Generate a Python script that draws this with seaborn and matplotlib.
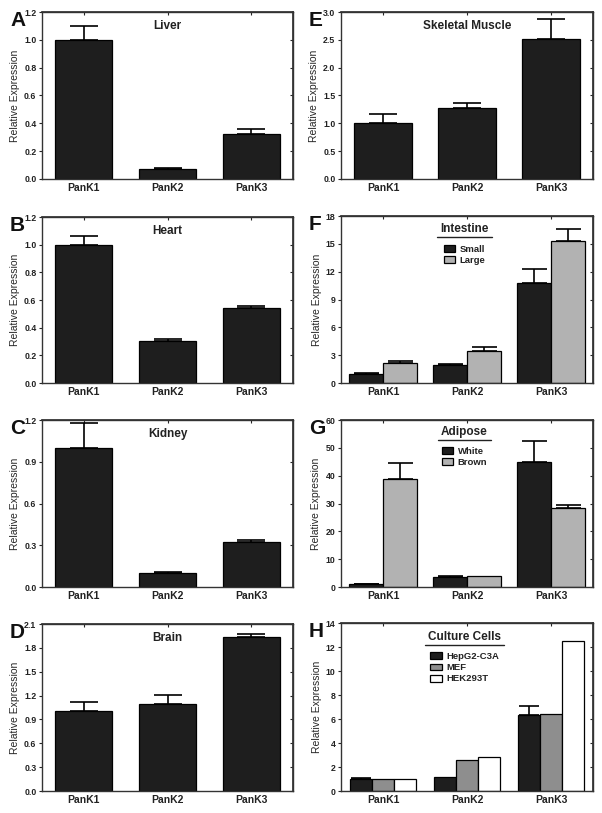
import numpy as np
import pandas as pd
import matplotlib
matplotlib.use("Agg")
import matplotlib.pyplot as plt
import seaborn as sns
from matplotlib.lines import Line2D
from matplotlib.ticker import FormatStrFormatter


# =========================
# Data
# =========================

genes = ["PanK1", "PanK2", "PanK3"]

liver = [1.00, 0.075, 0.32]
liver_top = [1.10, 0.08, 0.36]

heart = [1.00, 0.305, 0.54]
heart_top = [1.06, 0.315, 0.56]

kidney = [1.00, 0.10, 0.325]
kidney_top = [1.18, 0.11, 0.34]

brain = [1.00, 1.09, 1.94]
brain_top = [1.12, 1.21, 1.98]

muscle = [1.00, 1.27, 2.52]
muscle_top = [1.17, 1.37, 2.87]

intestine_small = [1.0, 1.9, 10.8]
intestine_small_top = [1.1, 2.1, 12.3]
intestine_large = [2.15, 3.45, 15.3]
intestine_large_top = [2.4, 3.9, 16.6]

adipose_white = [1.0, 3.7, 45.0]
adipose_white_top = [1.1, 4.1, 52.3]
adipose_brown = [38.8, 3.9, 28.5]
adipose_brown_top = [44.5, None, 29.6]

cells_hepg2 = [1.0, 1.15, 6.3]
cells_hepg2_top = [1.05, None, 7.05]
cells_mef = [1.0, 2.55, 6.4]
cells_mef_top = [None, None, None]
cells_hek = [1.0, 2.8, 12.5]
cells_hek_top = [None, None, None]


# =========================
# Style
# =========================

sns.set_theme(style="ticks")
plt.rcParams["font.family"] = ["Liberation Sans", "DejaVu Sans"]

BLACK = "#1e1e1e"
LIGHT = "#b2b2b2"
MID = "#8e8e8e"
WHITE = "#ffffff"

W, H = 602, 813
fig = plt.figure(figsize=(W / 100, H / 100), dpi=100)


def rect(left, top, right, bottom):
    return [left / W, 1 - bottom / H, (right - left) / W, (bottom - top) / H]


underlines = []


def panel(box, letter, title, series, names, colors, ymax, ystep, fmt,
          width, capsize, legend_title=None, leg_x=0.49, leg_y=0.92,
          leg_gap=0.045):
    ax = fig.add_axes(rect(*box))

    rows = []
    for name, vals in zip(names, [s[0] for s in series]):
        for g, v in zip(genes, vals):
            rows.append({"gene": g, "group": name, "value": v})
    df = pd.DataFrame(rows)

    sns.barplot(
        data=df,
        x="gene",
        y="value",
        hue="group",
        palette=colors,
        width=width,
        edgecolor="black",
        linewidth=0.9,
        errorbar=None,
        legend=legend_title is not None,
        ax=ax,
    )

    # upper-only error bars
    for cont, (vals, tops) in zip(ax.containers, series):
        for bar, t in zip(cont, tops):
            if t is None:
                continue
            x = bar.get_x() + bar.get_width() / 2
            h = bar.get_height()
            ax.errorbar(
                x, h, yerr=[[0], [t - h]],
                fmt="none", ecolor="black",
                elinewidth=1.2, capsize=capsize, capthick=1.2,
                zorder=0.9,
            )

    ax.set_xlim(-0.5, 2.5)
    ax.set_ylim(0, ymax)
    yt = np.arange(0, ymax + ystep / 2, ystep)
    ax.set_yticks(yt)
    ax.yaxis.set_major_formatter(FormatStrFormatter(fmt))
    ax.set_xlabel("")
    ax.set_ylabel("Relative Expression", fontsize=7.5, labelpad=3)

    ax.tick_params(axis="y", direction="out", length=2.5, width=0.8,
                   labelsize=6.3, pad=1.5)
    ax.tick_params(axis="x", direction="out", length=0, labelsize=7.5, pad=3)
    for lab in ax.get_xticklabels() + ax.get_yticklabels():
        lab.set_fontweight("bold")
        lab.set_color("#222222")

    for sp in ax.spines.values():
        sp.set_visible(True)
        sp.set_linewidth(1.0)
        sp.set_color("#333333")

    sec_y = ax.secondary_yaxis("right")
    sec_y.set_yticks(yt)
    sec_y.tick_params(direction="in", length=2.5, width=0.8, labelright=False)
    sec_y.spines["right"].set_color("#333333")
    sec_x = ax.secondary_xaxis("top")
    sec_x.set_xticks([0, 1, 2])
    sec_x.tick_params(direction="in", length=2.5, width=0.8, labeltop=False)
    sec_x.spines["top"].set_color("#333333")

    if title:
        ax.text(0.5, 0.915, title, transform=ax.transAxes,
                ha="center", va="center", fontsize=8.5,
                fontweight="bold", color="#222222")

    fig.text((box[0] - 32) / W, 1 - (box[1] - 1) / H, letter,
             fontsize=15, fontweight="bold", va="top", ha="left",
             color="#111111")

    if legend_title is not None:
        ttl = ax.text(leg_x, leg_y, legend_title, transform=ax.transAxes,
                      ha="center", va="center", fontsize=8.5,
                      fontweight="bold", color="#222222")
        underlines.append((ax, ttl, leg_y - 0.035))
        handles, labels = ax.get_legend_handles_labels()
        leg = ax.legend(
            handles, labels,
            loc="upper center",
            bbox_to_anchor=(leg_x, leg_y - leg_gap),
            frameon=False,
            fontsize=6.8,
            handlelength=1.25,
            handleheight=0.75,
            handletextpad=0.45,
            labelspacing=0.22,
            borderpad=0.1,
        )
        for t in leg.get_texts():
            t.set_fontweight("bold")
            t.set_color("#222222")
    return ax


# =========================
# Panels
# =========================

panel((42, 12, 293, 179), "A", "Liver",
      [(liver, liver_top)], ["Liver"], [BLACK],
      1.2, 0.2, "%.1f", 0.68, 10)

panel((42, 217, 293, 383), "B", "Heart",
      [(heart, heart_top)], ["Heart"], [BLACK],
      1.2, 0.2, "%.1f", 0.68, 10)

panel((42, 420, 293, 587), "C", "Kidney",
      [(kidney, kidney_top)], ["Kidney"], [BLACK],
      1.2, 0.3, "%.1f", 0.68, 10)

panel((42, 624, 293, 791), "D", "Brain",
      [(brain, brain_top)], ["Brain"], [BLACK],
      2.1, 0.3, "%.1f", 0.68, 10)

panel((341, 12, 593, 179), "E", "Skeletal Muscle",
      [(muscle, muscle_top)], ["Muscle"], [BLACK],
      3.0, 0.5, "%.1f", 0.68, 10)

panel((341, 216, 593, 383), "F", None,
      [(intestine_small, intestine_small_top),
       (intestine_large, intestine_large_top)],
      ["Small", "Large"], [BLACK, LIGHT],
      18, 3, "%d", 0.82, 9, legend_title="Intestine",
      leg_x=0.49, leg_y=0.922, leg_gap=0.06)

panel((341, 420, 593, 587), "G", None,
      [(adipose_white, adipose_white_top),
       (adipose_brown, adipose_brown_top)],
      ["White", "Brown"], [BLACK, LIGHT],
      60, 10, "%d", 0.82, 9, legend_title="Adipose",
      leg_x=0.49, leg_y=0.928, leg_gap=0.055)

panel((341, 623, 593, 791), "H", None,
      [(cells_hepg2, cells_hepg2_top),
       (cells_mef, cells_mef_top),
       (cells_hek, cells_hek_top)],
      ["HepG2-C3A", "MEF", "HEK293T"], [BLACK, MID, WHITE],
      14, 2, "%d", 0.78, 7, legend_title="Culture Cells",
      leg_x=0.49, leg_y=0.915, leg_gap=0.055)


# =========================
# Underline legend titles
# =========================

fig.canvas.draw()
renderer = fig.canvas.get_renderer()
inv = fig.transFigure.inverted()
for ax, ttl, _ in underlines:
    bb = ttl.get_window_extent(renderer)
    (x0, y0) = inv.transform((bb.x0 - 3, bb.y0 - 1.5))
    (x1, _) = inv.transform((bb.x1 + 3, bb.y0 - 1.5))
    fig.add_artist(Line2D([x0, x1], [y0, y0], transform=fig.transFigure,
                          color="#222222", lw=1.0))


fig.savefig("out.png", dpi=100)
